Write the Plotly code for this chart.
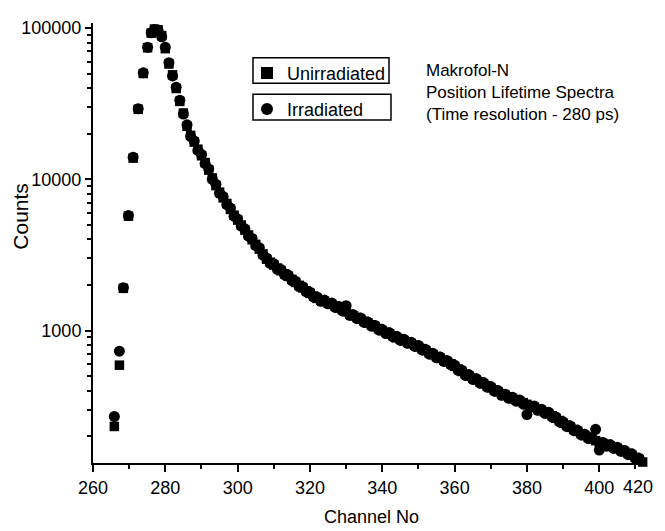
import plotly.graph_objects as go

# ---- data ----
rise_channels = [265.9, 267.3, 268.4, 269.8, 271.1, 272.5, 273.9, 275.1, 276.1]
tail_channels = list(range(277, 413))
channels = rise_channels + tail_channels

unirradiated = [
    232, 590, 1900, 5700, 13800, 29000, 50000, 74000, 92500,
    98400, 97300, 89100,
    73000, 57800, 49000, 39800, 32700, 27400, 22400, 19500, 17600, 15800,
    14300, 12900, 11500, 10200, 9080, 8220, 7530, 6920, 6320, 5790,
    5370, 4980, 4610, 4280, 3980, 3710, 3450, 3210, 2960, 2830,
    2710, 2590, 2480, 2370, 2280, 2180, 2080, 1990, 1910, 1830,
    1760, 1690, 1630, 1590, 1560, 1520, 1490, 1450, 1410, 1370,
    1330, 1280, 1250, 1220, 1190, 1150, 1120, 1090, 1060, 1030,
    995, 973, 948, 923, 897, 877, 857, 839, 820, 800,
    782, 759, 735, 711, 692, 673, 655, 637, 619, 603,
    579, 557, 536, 515, 499, 485, 471, 458, 444, 431,
    418, 405, 393, 380, 372, 363, 355, 348, 340, 333,
    325, 318, 311, 303, 296, 289, 282, 273, 263, 254,
    244, 237, 229, 222, 215, 208, 202, 197, 192, 187,
    182, 179, 176, 173, 169, 166, 162, 158, 154, 150,
    145, 140, 135,
]

irradiated = [
    270, 730, 1920, 5750, 14000, 29300, 50500, 74500, 93000,
    97800, 96200, 87500,
    74500, 58900, 48200, 40500, 33300, 27000, 22900, 19200, 17900, 15500,
    14600, 12700, 11700, 10000, 9250, 8080, 7680, 6800, 6450, 5700,
    5460, 4900, 4700, 4200, 4060, 3640, 3520, 3150, 3020, 2780,
    2760, 2540, 2530, 2330, 2320, 2140, 2120, 1950, 1950, 1800,
    1790, 1660, 1660, 1560, 1590, 1500, 1520, 1420, 1440, 1350,
    1460, 1260, 1270, 1200, 1210, 1130, 1140, 1070, 1080, 1010,
    1015, 955, 965, 905, 915, 860, 875, 823, 836, 785,
    797, 745, 750, 698, 706, 660, 668, 625, 631, 592,
    590, 546, 547, 505, 509, 476, 480, 449, 453, 423,
    426, 397, 401, 373, 379, 356, 362, 341, 347, 326,
    278, 312, 317, 297, 302, 283, 288, 268, 268, 249,
    249, 232, 234, 218, 219, 204, 206, 193, 196, 222,
    162, 182, 172, 176, 166, 169, 159, 161, 151, 153,
    142, 143, 133,
]

x_tick_values = [260, 280, 300, 320, 340, 360, 380, 400]
y_tick_values = [1000, 10000, 100000]
y_tick_labels = ["1000", "10000", "100000"]
y_minor_values = [m * 10 ** e for e in (2, 3, 4) for m in range(2, 10)]

FONT = "Liberation Sans, Arial, Helvetica, sans-serif"

fig = go.Figure()
fig.add_trace(go.Scatter(
    x=channels, y=unirradiated, mode="markers", name="Unirradiated",
    marker=dict(symbol="square", size=9.5, color="black"),
    cliponaxis=False, legend="legend",
))
fig.add_trace(go.Scatter(
    x=channels, y=irradiated, mode="markers", name="Irradiated",
    marker=dict(symbol="circle", size=11, color="black"),
    cliponaxis=False, legend="legend2",
))

legend_common = dict(
    bgcolor="rgba(0,0,0,0)", borderwidth=0,
    font=dict(family=FONT, size=18, color="black"),
    xanchor="left", yanchor="top", itemsizing="constant", itemwidth=30,
)

fig.update_layout(
    width=665, height=531,
    margin=dict(l=85, r=26, t=10, b=76),
    paper_bgcolor="white", plot_bgcolor="white",
    font=dict(family=FONT, size=18, color="black"),
    showlegend=True,
    legend=dict(x=0.278, y=0.928, **legend_common),
    legend2=dict(x=0.278, y=0.846, **legend_common),
    xaxis=dict(
        range=[260, 413.2], tickmode="array", tickvals=x_tick_values,
        showline=True, linecolor="black", linewidth=2, mirror=False,
        ticks="outside", ticklen=7, tickwidth=1.5, tickcolor="black",
        showgrid=False, zeroline=False,
        tickfont=dict(size=18),
        minor=dict(dtick=10, tick0=260, ticks="outside", ticklen=4,
                   tickwidth=1.5, tickcolor="black", showgrid=False),
    ),
    yaxis=dict(
        type="log", range=[2.124, 5.033], tickmode="array",
        tickvals=y_tick_values, ticktext=y_tick_labels,
        showline=True, linecolor="black", linewidth=2,
        ticks="outside", ticklen=6, tickwidth=1.5, tickcolor="black",
        showgrid=False, zeroline=False,
        tickfont=dict(size=18),
        minor=dict(tickmode="array", tickvals=y_minor_values, ticks="outside",
                   ticklen=4, tickwidth=1.5, tickcolor="black", showgrid=False),
    ),
)

# frames around the two legend entries
box_line = dict(color="black", width=1.5)
fig.add_shape(type="rect", xref="paper", yref="paper",
              x0=0.2888, x1=0.5343, y0=0.8629, y1=0.9213, line=box_line)
fig.add_shape(type="rect", xref="paper", yref="paper",
              x0=0.2888, x1=0.5379, y0=0.7798, y1=0.8382, line=box_line)

annotations = [
    dict(text="Counts", x=-0.130, y=0.562, xref="paper", yref="paper",
         xanchor="center", yanchor="middle",
         textangle=-90, showarrow=False, font=dict(size=21)),
    dict(text="Channel No", x=0.5036, y=-0.1236, xref="paper", yref="paper",
         xanchor="center", yanchor="middle", showarrow=False,
         font=dict(size=18)),
    dict(text="420", x=1.0144, xref="paper", y=-0.054, yref="paper",
         xanchor="right", yanchor="middle", showarrow=False,
         font=dict(size=18)),
    dict(text="Makrofol-N<br>Position Lifetime Spectra<br>(Time resolution - 280 ps)",
         x=0.5975, y=0.843, xref="paper", yref="paper",
         xanchor="left", yanchor="middle", align="left", showarrow=False,
         font=dict(size=17)),
]
fig.update_layout(annotations=annotations)

fig.write_html("out.html")
